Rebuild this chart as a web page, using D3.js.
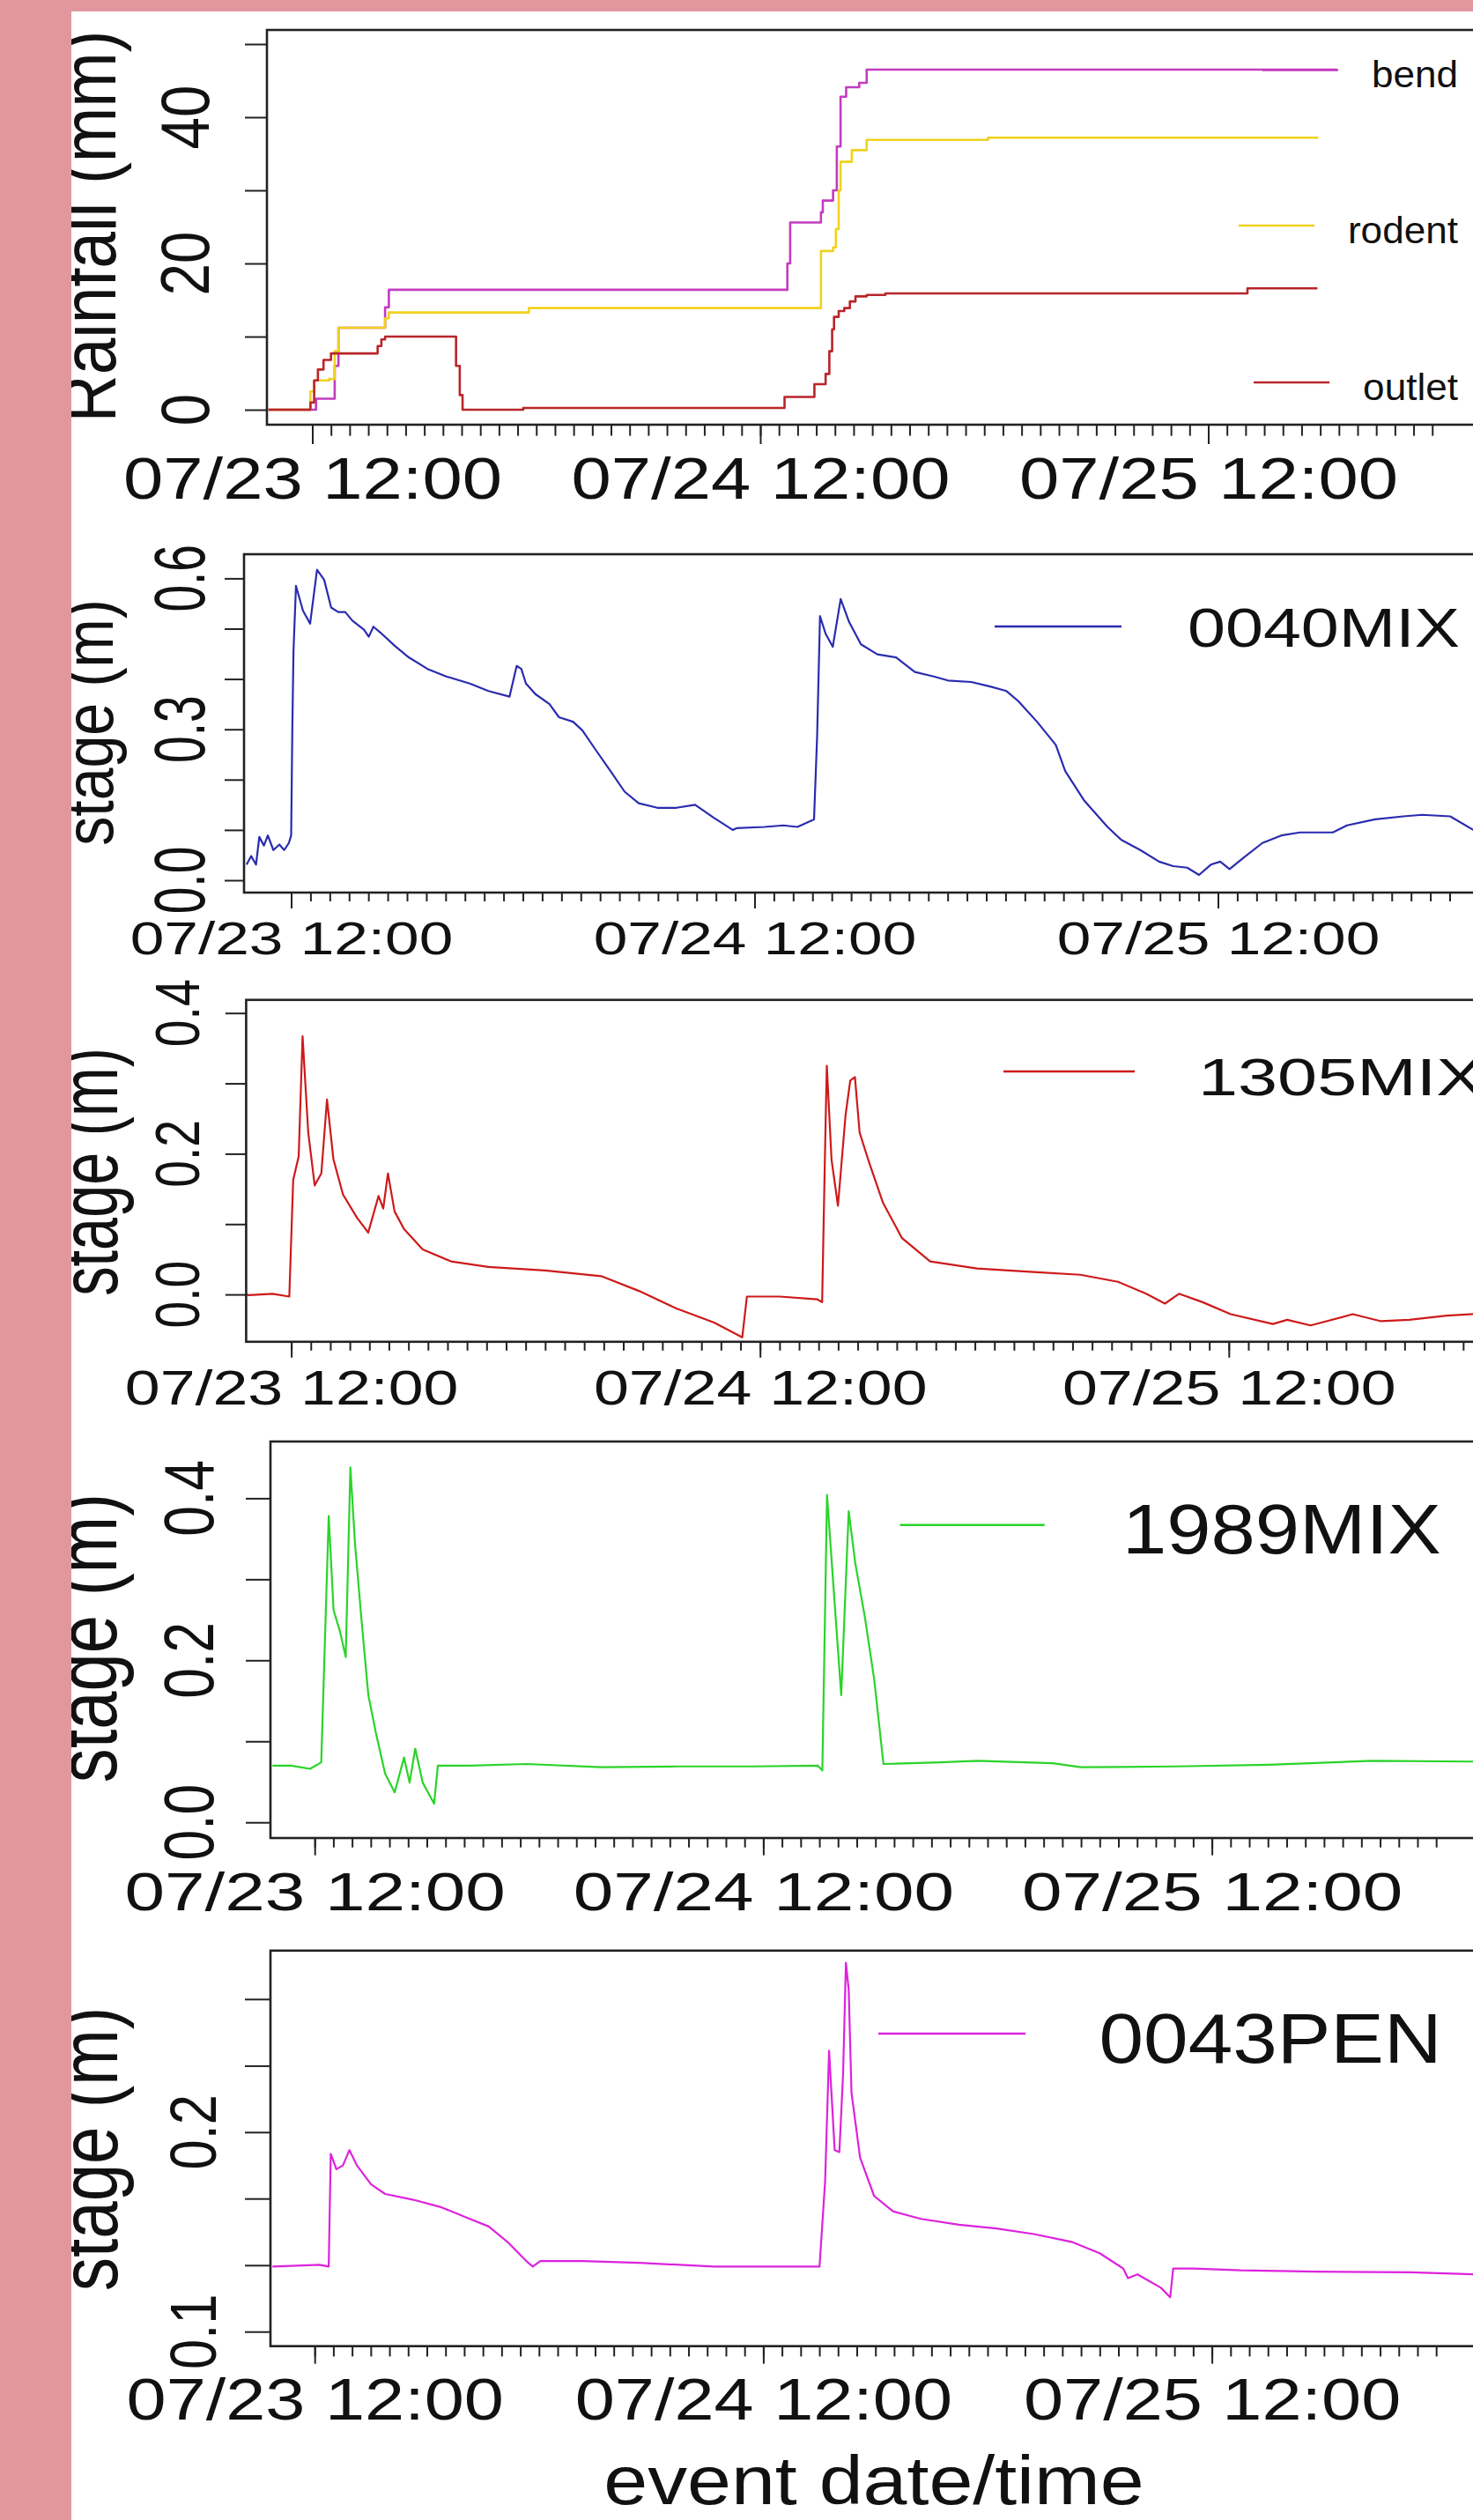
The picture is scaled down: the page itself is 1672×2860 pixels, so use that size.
<!DOCTYPE html>
<html>
<head>
<meta charset="utf-8">
<script src="https://cdn.jsdelivr.net/npm/d3@7"></script>
<style>
    html, body { margin: 0; padding: 0; background: #fff; }
    svg { display: block; }
    text { font-family: "Liberation Sans", Arial, sans-serif; fill: #111; }
</style>
</head>
<body>
<div id="chart"></div>
<script>
// all times are hours after 07/23 12:00
var rainBend = [[-2.35,0],[0.2,1.5],[1.2,6],[1.4,11.2],[3.9,14],[4.1,16.4],[25.45,20],[25.6,25.6],[27.25,27],[27.35,28.6],[27.9,30.0],[28.1,36],[28.3,42.8],[28.6,44.1],[29.3,44.7],[29.7,46.5],[54.9,46.5]];
var rainRodent = [[-2.35,0],[-0.1,2.5],[0.1,4.0],[0.9,4.2],[1.2,8.0],[1.4,11.2],[3.9,12.5],[4.1,13.3],[11.6,13.9],[27.25,21.7],[27.9,22.2],[28.05,24.7],[28.2,30],[28.3,33.9],[28.9,35.5],[29.7,36.9],[36.2,37.2],[53.9,37.2]];
var rainOutlet = [[-2.35,0],[-0.1,1.0],[0.1,4.0],[0.3,5.5],[0.6,6.8],[1.0,7.7],[3.5,8.7],[3.7,9.6],[3.9,10.0],[7.7,6.0],[7.9,2.0],[8.05,0],[11.3,0.25],[25.3,1.75],[26.9,3.5],[27.5,4.9],[27.7,8.0],[27.85,11.0],[27.95,12.7],[28.2,13.5],[28.5,13.9],[28.8,14.8],[29.1,15.5],[29.7,15.7],[30.7,15.9],[50.1,16.6],[53.85,16.6]];

var stage0040MIX = [[-2.31,0.031],[-2.07,0.048],[-1.82,0.031],[-1.65,0.086],[-1.41,0.069],[-1.21,0.089],[-0.92,0.060],[-0.61,0.071],[-0.36,0.060],[-0.12,0.074],[0.0,0.089],[0.06,0.30],[0.12,0.455],[0.25,0.585],[0.61,0.536],[0.98,0.51],[1.34,0.617],[1.71,0.597],[2.07,0.542],[2.44,0.533],[2.8,0.533],[3.17,0.516],[3.77,0.498],[4.02,0.484],[4.26,0.504],[4.63,0.492],[5.36,0.466],[6.09,0.443],[7.06,0.42],[8.03,0.405],[9.25,0.391],[10.22,0.376],[11.31,0.365],[11.68,0.426],[11.92,0.42],[12.16,0.391],[12.65,0.37],[13.38,0.35],[13.87,0.324],[14.6,0.315],[15.08,0.298],[15.81,0.257],[16.54,0.217],[17.27,0.176],[18.0,0.153],[18.97,0.144],[19.95,0.144],[20.92,0.15],[21.89,0.124],[22.87,0.10],[23.06,0.1035],[24.52,0.106],[25.49,0.109],[26.22,0.106],[27.08,0.121],[27.24,0.286],[27.39,0.525],[27.68,0.49],[28.05,0.464],[28.46,0.559],[28.9,0.513],[29.51,0.469],[30.36,0.449],[31.33,0.443],[32.3,0.414],[33.28,0.405],[34.01,0.397],[35.22,0.394],[36.2,0.385],[37.05,0.376],[37.66,0.356],[38.63,0.315],[39.6,0.269],[40.09,0.217],[41.06,0.159],[42.28,0.106],[43.0,0.080],[43.98,0.060],[44.95,0.037],[45.68,0.028],[46.41,0.025],[47.02,0.0105],[47.63,0.031],[48.12,0.037],[48.6,0.022],[49.33,0.045],[50.3,0.074],[51.28,0.089],[52.25,0.095],[53.95,0.095],[54.68,0.109],[56.14,0.121],[57.6,0.127],[58.57,0.130],[60.03,0.127],[61.2,0.1005],[62,0.095]];

var stage1305MIX = [[-2.33,0],[-2.16,-0.001],[-0.96,0.001],[-0.1,-0.003],[0.1,0.163],[0.38,0.196],[0.58,0.367],[0.87,0.23],[1.2,0.155],[1.54,0.172],[1.83,0.277],[2.16,0.192],[2.65,0.142],[3.37,0.109],[3.94,0.088],[4.47,0.14],[4.71,0.122],[4.95,0.172],[5.29,0.118],[5.77,0.093],[6.73,0.064],[8.18,0.047],[10.1,0.039],[12.99,0.034],[15.87,0.026],[17.8,0.005],[19.72,-0.02],[21.65,-0.04],[23.09,-0.061],[23.33,-0.003],[25.01,-0.003],[26.94,-0.007],[27.18,-0.011],[27.32,0.192],[27.42,0.325],[27.66,0.192],[27.99,0.126],[28.38,0.255],[28.62,0.304],[28.86,0.309],[29.1,0.23],[29.58,0.188],[30.3,0.13],[31.27,0.08],[32.71,0.047],[35.11,0.037],[38.0,0.032],[40.4,0.028],[42.33,0.018],[43.77,0.001],[44.73,-0.013],[45.45,0.001],[46.66,-0.011],[48.1,-0.028],[50.26,-0.042],[50.99,-0.036],[52.19,-0.044],[54.35,-0.028],[55.8,-0.038],[57.24,-0.036],[59.16,-0.03],[60.51,-0.028],[62,-0.028]];

var stage1989MIX = [[-2.26,0.07],[-1.26,0.07],[-0.25,0.066],[0.35,0.074],[0.75,0.378],[1.01,0.262],[1.36,0.235],[1.66,0.204],[1.91,0.438],[2.16,0.343],[2.52,0.246],[2.87,0.157],[3.27,0.111],[3.77,0.06],[4.28,0.037],[4.78,0.08],[5.08,0.049],[5.38,0.091],[5.78,0.049],[6.39,0.023],[6.59,0.07],[8.3,0.07],[11.32,0.072],[15.34,0.068],[19.37,0.069],[23.39,0.069],[26.91,0.07],[27.16,0.064],[27.41,0.404],[27.82,0.27],[28.17,0.157],[28.57,0.384],[28.92,0.32],[29.43,0.254],[29.93,0.177],[30.43,0.072],[33.45,0.074],[35.46,0.076],[39.49,0.073],[40.99,0.068],[46.03,0.069],[51.06,0.071],[56.59,0.076],[62.02,0.075]];

var stage0043PEN = [[-2.26,0.1326],[0.25,0.1335],[0.75,0.1326],[0.86,0.1891],[1.16,0.1814],[1.51,0.1833],[1.86,0.191],[2.26,0.1833],[3.02,0.1738],[3.77,0.169],[5.28,0.1661],[6.79,0.1623],[8.3,0.1565],[9.31,0.1527],[10.31,0.145],[11.32,0.1354],[11.67,0.1326],[12.07,0.1354],[14.34,0.1354],[17.35,0.1345],[21.38,0.1326],[26.41,0.1326],[27.01,0.1326],[27.31,0.1757],[27.52,0.2408],[27.82,0.191],[28.07,0.19],[28.27,0.2293],[28.42,0.2849],[28.57,0.2715],[28.72,0.2197],[29.18,0.1872],[29.93,0.168],[30.94,0.1603],[32.44,0.1565],[34.46,0.1536],[36.47,0.1517],[38.48,0.1489],[40.49,0.145],[42.0,0.1393],[43.26,0.1316],[43.51,0.1268],[44.02,0.1287],[45.27,0.122],[45.77,0.1172],[45.93,0.1316],[47.03,0.1316],[49.55,0.1307],[53.57,0.1301],[58.6,0.1297],[62.02,0.1287]];

// tick values
var majorHours = [0, 24, 48];
var minorHours = d3.range(0, 61);
var rainTicks = [0, 10, 20, 30, 40, 50], rainLabels = [0, 20, 40];
var ticks0040 = [0, 0.1, 0.2, 0.3, 0.4, 0.5, 0.6], labels0040 = [0, 0.3, 0.6];
var ticks1305 = [0, 0.1, 0.2, 0.3, 0.4], labels1305 = [0, 0.2, 0.4];
var ticks1989 = [0, 0.1, 0.2, 0.3, 0.4], labels1989 = [0, 0.2, 0.4];
var ticks0043 = [0.1, 0.1333, 0.1667, 0.2, 0.2333, 0.2667], labels0043 = [0.1, 0.2];

var t0 = Date.UTC(2014, 6, 23, 12);
function toDate(h) { return new Date(t0 + h * 3600000); }
var fmtTime = d3.utcFormat("%m/%d %H:%M");

var W = 1672, H = 2860;
var svg = d3.select("#chart").append("svg").attr("width", W).attr("height", H);
svg.append("rect").attr("width", W).attr("height", H).attr("fill", "#fff");

// set font size then squeeze / widen along the baseline
function fit(sel, size, stretch) {
    sel.attr("font-size", size);
    sel.each(function () {
        var n = this.getComputedTextLength();
        this.setAttribute("textLength", n * stretch);
        this.setAttribute("lengthAdjust", "spacingAndGlyphs");
    });
    return sel;
}

var panels = [
    {
        series: [
            { data: rainBend, color: "#c23cc0", name: "bend", lx: 99 },
            { data: rainRodent, color: "#f0d21e", name: "rodent", lx: 275.5 },
            { data: rainOutlet, color: "#b8262a", name: "outlet", lx: 453.5 }
        ],
        step: true, left: 303, top: 34, bottom: 482, xr: [354.5, 1371.5],
        yd: [0, 50], yr: [465, 50], yTicks: rainTicks, yLabels: rainLabels, yFmt: d3.format("d"),
        yTickLen: 25, minorLen: 12.6, majorLen: 22,
        xl: { f: 67, s: 1.215, b: 566 }, yl: { f: 78, s: 0.84, b: 237 },
        title: { text: "Rainfall (mm)", f: 87, s: 0.86, b: 131, c: 257 }, lw: 2.6
    },
    {
        series: [{ data: stage0040MIX, color: "#2b2bb0", name: "0040MIX" }],
        left: 277, top: 629, bottom: 1013, xr: [330.5, 1382.5],
        yd: [0, 0.6], yr: [999, 656.4], yTicks: ticks0040, yLabels: labels0040, yFmt: d3.format(".1f"),
        yTickLen: 22, minorLen: 10, majorLen: 18,
        xl: { f: 51, s: 1.36, b: 1083 }, yl: { f: 82, s: 0.67, b: 232 },
        title: { text: "stage (m)", f: 77, s: 0.86, b: 128, c: 820 },
        legend: { x1: 1129, x2: 1273, y: 711, tx: 1348, b: 734, f: 63, s: 1.226 }, lw: 2.2
    },
    {
        series: [{ data: stage1305MIX, color: "#cd1a1a", name: "1305MIX" }],
        left: 279.4, top: 1134.8, bottom: 1522.8, xr: [330.6, 1394.8],
        yd: [0, 0.4], yr: [1469.1, 1149.7], yTicks: ticks1305, yLabels: labels1305, yFmt: d3.format(".1f"),
        yTickLen: 23.5, minorLen: 10, majorLen: 18,
        xl: { f: 56, s: 1.28, b: 1594 }, yl: { f: 70, s: 0.79, b: 226 },
        title: { text: "stage (m)", f: 92, s: 0.725, b: 133, c: 1330 },
        legend: { x1: 1139, x2: 1288, y: 1216, tx: 1360, b: 1242.6, f: 60, s: 1.35 }, lw: 2.2
    },
    {
        series: [{ data: stage1989MIX, color: "#2ad42a", name: "1989MIX" }],
        left: 307, top: 1636, bottom: 2086, xr: [357.2, 1375.6],
        yd: [0, 0.4], yr: [2068.2, 1700.4], yTicks: ticks1989, yLabels: labels1989, yFmt: d3.format(".1f"),
        yTickLen: 28, minorLen: 10.7, majorLen: 19.6,
        xl: { f: 62, s: 1.32, b: 2168 }, yl: { f: 79, s: 0.79, b: 242 },
        title: { text: "stage (m)", f: 96, s: 0.81, b: 132, c: 1859 },
        legend: { x1: 1021.5, x2: 1185.7, y: 1730.7, tx: 1274, b: 1763, f: 80, s: 1.13 }, lw: 2.2
    },
    {
        series: [{ data: stage0043PEN, color: "#dd22dd", name: "0043PEN" }],
        left: 307, top: 2213.8, bottom: 2662.7, xr: [357.2, 1375.6],
        yd: [0.1, 0.2], yr: [2646.2, 2419.8], yTicks: ticks0043, yLabels: labels0043, yFmt: d3.format(".1f"),
        yTickLen: 29, minorLen: 11.7, majorLen: 20,
        xl: { f: 67, s: 1.21, b: 2746 }, yl: { f: 74, s: 0.83, b: 245 },
        title: { text: "stage (m)", f: 92, s: 0.83, b: 133, c: 2439 },
        legend: { x1: 997, x2: 1164, y: 2308, tx: 1247.6, b: 2340.5, f: 79, s: 1.15 }, lw: 2.2
    }
];

panels.forEach(function (p, i) {
    var x = d3.scaleUtc().domain([toDate(0), toDate(48)]).range(p.xr);
    var y = d3.scaleLinear().domain(p.yd).range(p.yr);
    var g = svg.append("g");

    g.append("clipPath").attr("id", "clip" + i)
        .append("rect").attr("x", p.left).attr("y", p.top)
        .attr("width", W - p.left + 10).attr("height", p.bottom - p.top);

    var line = d3.line()
        .x(function (d) { return x(toDate(d[0])); })
        .y(function (d) { return y(d[1]); })
        .curve(p.step ? d3.curveStepAfter : d3.curveLinear);

    g.append("g").attr("clip-path", "url(#clip" + i + ")")
        .selectAll("path").data(p.series).enter().append("path")
        .attr("d", function (s) { return line(s.data); })
        .attr("fill", "none")
        .attr("stroke", function (s) { return s.color; })
        .attr("stroke-width", p.lw)
        .attr("stroke-linejoin", "round");

    // box
    g.append("rect").attr("x", p.left).attr("y", p.top)
        .attr("width", W + 40 - p.left).attr("height", p.bottom - p.top)
        .attr("fill", "none").attr("stroke", "#222").attr("stroke-width", 2.6);

    // x axis: hourly minor ticks + labelled majors
    var minorAxis = d3.axisBottom(x).tickValues(minorHours.map(toDate))
        .tickSize(p.minorLen).tickFormat("");
    var majorAxis = d3.axisBottom(x).tickValues(majorHours.map(toDate))
        .tickSize(p.majorLen).tickFormat(fmtTime);
    [minorAxis, majorAxis].forEach(function (ax) {
        var a = g.append("g").attr("transform", "translate(0," + p.bottom + ")").call(ax);
        a.select(".domain").remove();
        a.selectAll("line").attr("stroke", "#222").attr("stroke-width", 2);
        a.selectAll("text").attr("fill", "#111").attr("dy", 0)
            .attr("y", p.xl.b - p.bottom)
            .attr("font-family", "Liberation Sans, Arial, sans-serif");
        fit(a.selectAll("text"), p.xl.f, p.xl.s);
    });

    // y axis
    var yAxis = d3.axisLeft(y).tickValues(p.yTicks).tickSize(p.yTickLen).tickFormat("");
    var ya = g.append("g").attr("transform", "translate(" + p.left + ",0)").call(yAxis);
    ya.select(".domain").remove();
    ya.selectAll("line").attr("stroke", "#222").attr("stroke-width", 2);

    var yl = g.selectAll(".ylab").data(p.yLabels).enter().append("text")
        .attr("transform", function (d) { return "translate(" + p.yl.b + "," + y(d) + ") rotate(-90)"; })
        .attr("text-anchor", "middle")
        .text(function (d) { return p.yFmt(d); });
    fit(yl, p.yl.f, p.yl.s);

    var tt = g.append("text")
        .attr("transform", "translate(" + p.title.b + "," + p.title.c + ") rotate(-90)")
        .attr("text-anchor", "middle").text(p.title.text);
    fit(tt, p.title.f, p.title.s);

    // legends
    if (p.legend) {
        var L = p.legend;
        g.append("line").attr("x1", L.x1).attr("x2", L.x2).attr("y1", L.y).attr("y2", L.y)
            .attr("stroke", p.series[0].color).attr("stroke-width", 2.6);
        fit(g.append("text").attr("x", L.tx).attr("y", L.b).text(p.series[0].name), L.f, L.s);
    } else {
        p.series.forEach(function (s) {
            var t = g.append("text").attr("x", 1655).attr("y", s.lx)
                .attr("text-anchor", "end").text(s.name);
            fit(t, 42, 1.05);
            var start = 1655 - t.node().getComputedTextLength();
            g.append("line").attr("x1", start - 124).attr("x2", start - 38)
                .attr("y1", s.lx - 19.5).attr("y2", s.lx - 19.5)
                .attr("stroke", s.color).attr("stroke-width", 2.6);
        });
    }
});

fit(svg.append("text").attr("x", 992).attr("y", 2841.7)
    .attr("text-anchor", "middle").text("event date/time"), 78, 1.15);

// pink frame on the left and top edges
svg.append("rect").attr("x", 0).attr("y", 0).attr("width", 81).attr("height", H).attr("fill", "#e2979f");
svg.append("rect").attr("x", 0).attr("y", 0).attr("width", W).attr("height", 13).attr("fill", "#e2979f");
</script>
</body>
</html>
